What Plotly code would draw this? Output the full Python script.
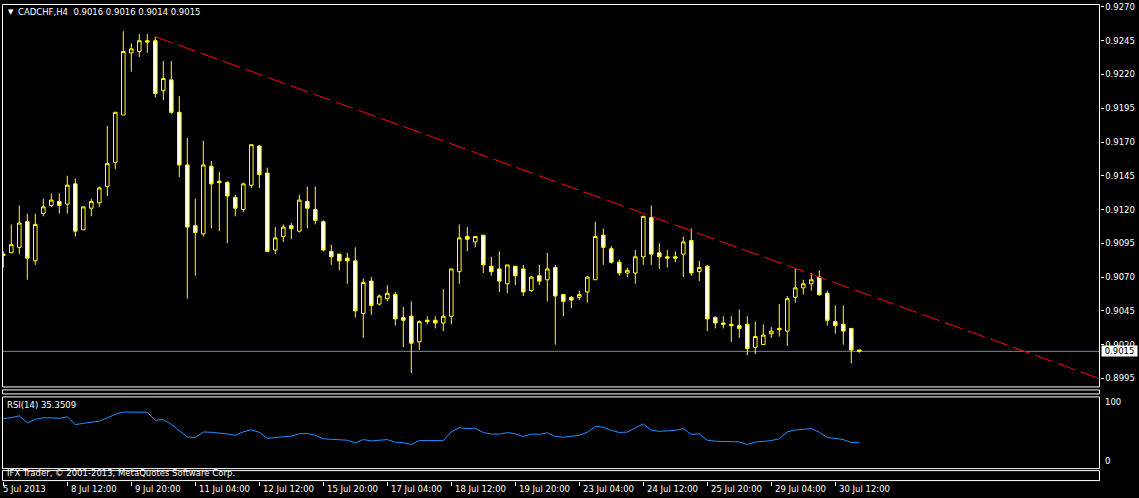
import plotly.graph_objects as go

# ---------------- data ----------------
symbol = "CADCHF,H4"
last_ohlc = [0.9016, 0.9016, 0.9014, 0.9015]
rsi_label = "RSI(14) 35.3509"
copyright_text = "IFX Trader, \u00a9 2001-2013, MetaQuotes Software Corp."

opens = [0.9086, 0.9088, 0.9092, 0.9111, 0.9082, 0.9117, 0.9123, 0.9126, 0.9124, 0.9139,
         0.9105, 0.9121, 0.9125, 0.9137, 0.9155, 0.9190, 0.9236, 0.9237, 0.9245, 0.9245,
         0.9208, 0.9216, 0.9192, 0.9153, 0.9108, 0.9102, 0.9152, 0.9141, 0.9140, 0.9129,
         0.9120, 0.9138, 0.9167, 0.9147, 0.9090, 0.9100, 0.9108, 0.9104, 0.9126, 0.9120,
         0.9111, 0.9089, 0.9087, 0.9084, 0.9082, 0.9043, 0.9067, 0.9050, 0.9054, 0.9057,
         0.9040, 0.9041, 0.9022, 0.9038, 0.9038, 0.9036, 0.9041, 0.9074, 0.9100, 0.9096,
         0.9101, 0.9078, 0.9076, 0.9065, 0.9078, 0.9076, 0.9060, 0.9071, 0.9068, 0.9077,
         0.9057, 0.9055, 0.9055, 0.9059, 0.9068, 0.9101, 0.9091, 0.9081, 0.9073, 0.9073,
         0.9085, 0.9114, 0.9088, 0.9085, 0.9085, 0.9087, 0.9097, 0.9074, 0.9078, 0.9040,
         0.9036, 0.9035, 0.9034, 0.9035, 0.9018, 0.9020, 0.9028, 0.9032, 0.9030, 0.9055,
         0.9062, 0.9065, 0.9070, 0.9058, 0.9037, 0.9035, 0.9032, 0.9016]
highs = [0.9089, 0.9109, 0.9123, 0.9117, 0.9117, 0.9128, 0.9132, 0.9132, 0.9145, 0.9143,
         0.9122, 0.9128, 0.9137, 0.9182, 0.9192, 0.9252, 0.9243, 0.9250, 0.9250, 0.9248,
         0.9230, 0.9230, 0.9204, 0.9173, 0.9128, 0.9171, 0.9156, 0.9148, 0.9141, 0.9131,
         0.9140, 0.9168, 0.9168, 0.9151, 0.9107, 0.9109, 0.9110, 0.9131, 0.9137, 0.9137,
         0.9112, 0.9094, 0.9087, 0.9088, 0.9092, 0.9069, 0.9070, 0.9057, 0.9064, 0.9059,
         0.9048, 0.9052, 0.9038, 0.9041, 0.9041, 0.9061, 0.9076, 0.9109, 0.9107, 0.9100,
         0.9101, 0.9085, 0.9089, 0.9079, 0.9078, 0.9079, 0.9071, 0.9079, 0.9088, 0.9079,
         0.9057, 0.9056, 0.9060, 0.9071, 0.9111, 0.9106, 0.9093, 0.9083, 0.9077, 0.9090,
         0.9115, 0.9123, 0.9095, 0.9090, 0.9089, 0.9100, 0.9106, 0.9082, 0.9079, 0.9041,
         0.9041, 0.9041, 0.9046, 0.9041, 0.9037, 0.9035, 0.9033, 0.9050, 0.9056, 0.9076,
         0.9068, 0.9073, 0.9075, 0.9060, 0.9049, 0.9049, 0.9032, 0.9016]
lows = [0.9077, 0.9088, 0.9087, 0.9068, 0.9079, 0.9115, 0.9122, 0.9117, 0.9117, 0.9100,
        0.9105, 0.9115, 0.9122, 0.9130, 0.9150, 0.9190, 0.9222, 0.9233, 0.9236, 0.9203,
        0.9201, 0.9191, 0.9144, 0.9054, 0.9071, 0.9100, 0.9106, 0.9104, 0.9095, 0.9115,
        0.9118, 0.9136, 0.9136, 0.9089, 0.9087, 0.9096, 0.9098, 0.9103, 0.9106, 0.9109,
        0.9089, 0.9079, 0.9075, 0.9065, 0.9040, 0.9025, 0.9042, 0.9049, 0.9052, 0.9034,
        0.9018, 0.8999, 0.9016, 0.9035, 0.9032, 0.9030, 0.9035, 0.9065, 0.9089, 0.9092,
        0.9073, 0.9071, 0.9059, 0.9058, 0.9064, 0.9056, 0.9059, 0.9064, 0.9052, 0.9020,
        0.9041, 0.9047, 0.9053, 0.9051, 0.9068, 0.9079, 0.9080, 0.9071, 0.9070, 0.9065,
        0.9079, 0.9079, 0.9076, 0.9077, 0.9081, 0.9070, 0.9071, 0.9067, 0.9030, 0.9032,
        0.9032, 0.9022, 0.9025, 0.9012, 0.9013, 0.9020, 0.9025, 0.9026, 0.9019, 0.9051,
        0.9057, 0.9060, 0.9056, 0.9034, 0.9028, 0.9020, 0.9006, 0.9014]
closes = [0.9087, 0.9094, 0.9110, 0.9084, 0.9109, 0.9122, 0.9127, 0.9123, 0.9138, 0.9104,
          0.9122, 0.9126, 0.9136, 0.9154, 0.9192, 0.9237, 0.9239, 0.9245, 0.9244, 0.9206,
          0.9217, 0.9192, 0.9153, 0.9107, 0.9103, 0.9153, 0.9139, 0.9140, 0.9130, 0.9121,
          0.9139, 0.9168, 0.9146, 0.9089, 0.9099, 0.9107, 0.9106, 0.9127, 0.9121, 0.9112,
          0.9090, 0.9085, 0.9082, 0.9082, 0.9045, 0.9066, 0.9049, 0.9056, 0.9058, 0.9039,
          0.9038, 0.9021, 0.9037, 0.9037, 0.9036, 0.9041, 0.9076, 0.9099, 0.9098, 0.9100,
          0.9079, 0.9074, 0.9067, 0.9079, 0.9071, 0.9059, 0.9070, 0.9067, 0.9076, 0.9056,
          0.9052, 0.9053, 0.9057, 0.9070, 0.9100, 0.9092, 0.9081, 0.9073, 0.9075, 0.9085,
          0.9115, 0.9087, 0.9085, 0.9084, 0.9084, 0.9096, 0.9073, 0.9077, 0.9039, 0.9036,
          0.9035, 0.9034, 0.9032, 0.9017, 0.9026, 0.9027, 0.9030, 0.9031, 0.9054, 0.9062,
          0.9065, 0.9068, 0.9057, 0.9038, 0.9034, 0.9030, 0.9016, 0.9015]
rsi = [73.7, 75.3, 78.2, 66.9, 72.6, 75.0, 75.0, 74.2, 76.6, 64.0,
       66.1, 67.7, 69.7, 75.0, 80.6, 84.4, 84.4, 84.4, 83.9, 71.0,
       72.1, 64.5, 54.8, 44.0, 43.1, 52.1, 51.6, 50.5, 48.9, 46.8,
       52.4, 55.6, 51.6, 41.6, 43.5, 44.4, 45.2, 49.2, 49.5, 46.8,
       41.1, 40.3, 39.5, 38.7, 34.4, 39.8, 37.6, 38.7, 39.8, 35.5,
       34.7, 31.8, 38.2, 38.2, 38.2, 38.2, 52.4, 58.9, 57.6, 58.1,
       51.1, 48.9, 48.7, 51.1, 49.2, 44.7, 48.7, 48.4, 50.8, 44.7,
       43.5, 45.2, 46.8, 51.6, 61.3, 59.7, 54.8, 51.3, 51.9, 58.9,
       65.0, 54.8, 53.2, 53.9, 54.8, 57.6, 48.1, 49.2, 38.7, 37.1,
       36.8, 36.5, 36.0, 31.8, 36.0, 36.8, 38.2, 41.1, 52.4, 55.2,
       56.8, 57.6, 51.6, 43.1, 41.6, 39.8, 35.0, 35.35]
bars = list(range(len(closes)))

time_tick_bars = [0, 8, 16, 24, 32, 40, 48, 56, 64, 72, 80, 88, 96, 104]
time_tick_labels = ["5 Jul 2013", "8 Jul 12:00", "9 Jul 20:00", "11 Jul 04:00", "12 Jul 12:00",
                    "15 Jul 20:00", "17 Jul 04:00", "18 Jul 12:00", "19 Jul 20:00", "23 Jul 04:00",
                    "24 Jul 12:00", "25 Jul 20:00", "29 Jul 04:00", "30 Jul 12:00"]
price_ticks = [0.8995, 0.9020, 0.9045, 0.9070, 0.9095, 0.9120, 0.9145, 0.9170,
               0.9195, 0.9220, 0.9245, 0.9270]
price_range = [0.89890, 0.92722]
rsi_range = [-6.45, 109.7]
rsi_levels = [100, 0]

# trend line anchors (bar index, price) - drawn as a ray to the right edge
trend_x = [19, 81]
trend_y = [0.9248, 0.9115]

# ---------------- layout helpers ----------------
W, H = 1139, 498
def px(x):
    return x / W
def py(y):
    return 1 - y / H

BAR_PX = 8.0
FIRST_BAR_PX = 3.3
LEFT, RIGHT = 2, 1099
x_range = [(LEFT - FIRST_BAR_PX) / BAR_PX, (RIGHT - FIRST_BAR_PX) / BAR_PX]

FONT = "DejaVu Sans"
FS = 8.5
WHITE = "#ffffff"

fig = go.Figure()

fig.add_trace(go.Candlestick(
    x=bars, open=opens, high=highs, low=lows, close=closes,
    increasing=dict(line=dict(color="#ffff00", width=1), fillcolor="#000000"),
    decreasing=dict(line=dict(color="#ffff00", width=1), fillcolor="#ffffff"),
    whiskerwidth=0, xaxis="x", yaxis="y", showlegend=False, hoverinfo="skip"))

# trend ray
slope = (trend_y[1] - trend_y[0]) / (trend_x[1] - trend_x[0])
x_end = x_range[1]
y_end = trend_y[0] + slope * (x_end - trend_x[0])
fig.add_trace(go.Scatter(
    x=[trend_x[0], x_end], y=[trend_y[0], y_end], mode="lines",
    line=dict(color="#ff0000", width=1, dash="18px,6px"),
    xaxis="x", yaxis="y", showlegend=False, hoverinfo="skip"))

fig.add_trace(go.Scatter(
    x=bars, y=rsi, mode="lines", line=dict(color="#1e90ff", width=1),
    xaxis="x", yaxis="y2", showlegend=False, hoverinfo="skip"))

shapes = []
def frame(x0, y0, x1, y1):
    shapes.append(dict(type="rect", xref="paper", yref="paper",
                       x0=px(x0 + 0.5), x1=px(x1 + 0.5), y0=py(y0 + 0.5), y1=py(y1 + 0.5),
                       line=dict(color=WHITE, width=1), fillcolor="rgba(0,0,0,0)", layer="above"))

# bid line
shapes.append(dict(type="line", xref="paper", yref="y", x0=px(LEFT), x1=px(RIGHT),
                   y0=last_ohlc[3], y1=last_ohlc[3], line=dict(color="#778899", width=1),
                   layer="below"))
frame(LEFT, 2, RIGHT, 386)
frame(LEFT, 389, RIGHT, 393)
frame(LEFT, 396, RIGHT, 468)
frame(LEFT, 470, RIGHT, 480)

ann = []
ann.append(dict(text="\u25bc", x=px(6), y=py(10.5), xref="paper", yref="paper",
                xanchor="left", yanchor="middle", showarrow=False,
                font=dict(family=FONT, size=7, color=WHITE)))
ann.append(dict(text=symbol + "\u00a0\u00a0" + " ".join("%.4f" % v for v in last_ohlc),
                x=px(16), y=py(10.5), xref="paper", yref="paper",
                xanchor="left", yanchor="middle", showarrow=False,
                font=dict(family=FONT, size=FS, color=WHITE)))
ann.append(dict(text=rsi_label, x=px(5), y=py(404.5), xref="paper", yref="paper",
                xanchor="left", yanchor="middle", showarrow=False,
                font=dict(family=FONT, size=FS, color=WHITE)))
ann.append(dict(text=copyright_text, x=px(5), y=py(473), xref="paper", yref="paper",
                xanchor="left", yanchor="middle", showarrow=False,
                font=dict(family=FONT, size=FS, color=WHITE)))
# price tag
ann.append(dict(text="%.4f" % last_ohlc[3], x=px(1101), y=last_ohlc[3], xref="paper", yref="y",
                xanchor="left", yanchor="middle", showarrow=False, bgcolor=WHITE,
                borderpad=0, width=35, height=10,
                font=dict(family=FONT, size=FS, color="#000000")))
# rsi level labels
for lv, yy in zip(rsi_levels, [402, 461]):
    ann.append(dict(text=str(lv), x=px(1103), y=py(yy), xref="paper", yref="paper",
                    xanchor="left", yanchor="middle", showarrow=False,
                    font=dict(family=FONT, size=FS, color=WHITE)))
# time labels
for i, (b, lab) in enumerate(zip(time_tick_bars, time_tick_labels)):
    ann.append(dict(text=lab, x=b, y=py(489), xref="x", yref="paper",
                    xanchor="left", yanchor="middle", showarrow=False,
                    xshift=(-2 if i == 0 else 2),
                    font=dict(family=FONT, size=FS, color=WHITE)))

fig.update_layout(
    width=W, height=H, autosize=False,
    margin=dict(l=0, r=0, t=0, b=0, pad=0),
    paper_bgcolor="#000000", plot_bgcolor="#000000",
    showlegend=False, boxgap=0.36,
    font=dict(family=FONT, size=FS, color=WHITE),
    xaxis=dict(domain=[px(LEFT), px(RIGHT)], range=x_range, anchor="free",
               position=py(480.5), ticks="outside", ticklen=4, tickwidth=1,
               tickcolor=WHITE, tickvals=time_tick_bars, showticklabels=False,
               showgrid=False, zeroline=False, showline=False,
               rangeslider=dict(visible=False), fixedrange=True),
    yaxis=dict(domain=[py(386), py(2)], range=price_range, side="right",
               anchor="free", position=px(RIGHT + 0.5), ticks="outside", ticklen=3,
               tickwidth=1, tickcolor=WHITE, tickvals=price_ticks,
               ticktext=["%.4f" % v for v in price_ticks],
               ticklabeloverflow="allow",
               tickfont=dict(family=FONT, size=FS, color=WHITE),
               showgrid=False, zeroline=False, showline=False, fixedrange=True),
    yaxis2=dict(domain=[py(468), py(396)], range=rsi_range, anchor="free",
                position=px(RIGHT), visible=False, showgrid=False,
                zeroline=False, fixedrange=True),
    shapes=shapes, annotations=ann,
)

fig.write_html(
    "out.html",
    config={"displayModeBar": False},
    post_script="document.body.style.margin='0px';document.body.style.background='#000';"
                "document.documentElement.style.overflow='hidden';",
)
